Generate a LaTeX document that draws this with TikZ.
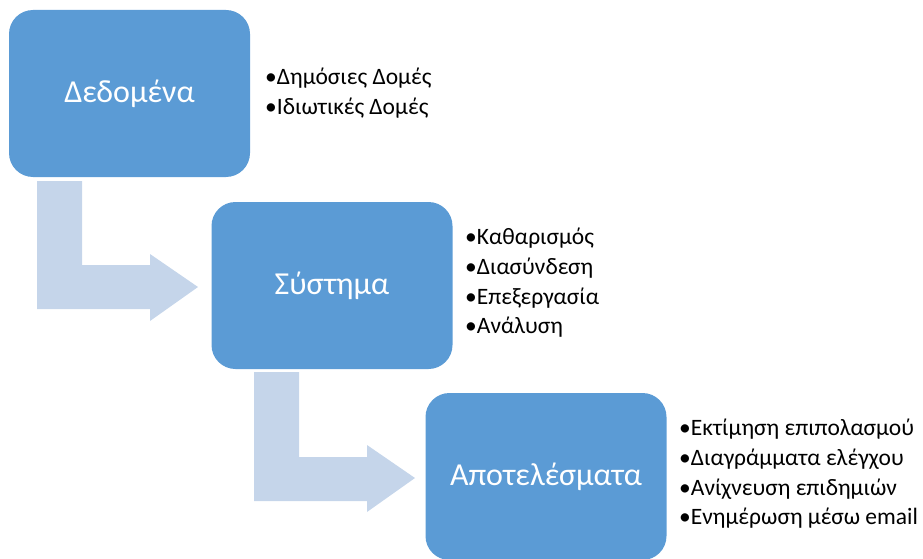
\documentclass[tikz,border=0pt]{standalone}
\usepackage{fontspec}
\setmainfont{Carlito}
\definecolor{boxblue}{HTML}{5B9BD5}
\definecolor{arrowblue}{HTML}{C5D5EA}
\begin{document}
\begin{tikzpicture}[x=1pt,y=-1pt,
  stagebox/.style={fill=boxblue,rounded corners=24pt,minimum width=241pt,minimum height=167pt,
    inner sep=0pt,text=white,font=\fontsize{32}{40}\selectfont},
  bulletlist/.style={anchor=north west,align=left,inner sep=0pt,
    font=\fontsize{23.5}{29.7}\selectfont},
  bentarrow/.style={fill=arrowblue,draw=none}]
\useasboundingbox (0,0) rectangle (923,559);
% bent arrows
\fill[bentarrow] (37,181) -- (82,181) -- (82,265) -- (150,265) -- (150,254) -- (198,287)
  -- (150,321) -- (150,309) -- (37,309) -- cycle;
\fill[bentarrow] (254,372) -- (299,372) -- (299,457) -- (367,457) -- (367,445) -- (415,478)
  -- (367,512) -- (367,501) -- (254,501) -- cycle;
% boxes
\node[stagebox] (b1) at (129.5,93.5) {Δεδομένα};
\node[stagebox] (b2) at (332,285.5) {Σύστημα};
\node[stagebox] (b3) at (546,476.5) {Αποτελέσματα};
% lists
\node[bulletlist] (l1) at (265,68) {•Δημόσιες Δομές\\•Ιδιωτικές Δομές};
\node[bulletlist] (l2) at (465,228) {•Καθαρισμός\\•Διασύνδεση\\•Επεξεργασία\\•Ανάλυση};
\node[bulletlist] (l3) at (679,419) {•Εκτίμηση επιπολασμού\\•Διαγράμματα ελέγχου\\•Ανίχνευση επιδημιών\\•Ενημέρωση μέσω email};
\end{tikzpicture}
\end{document}
